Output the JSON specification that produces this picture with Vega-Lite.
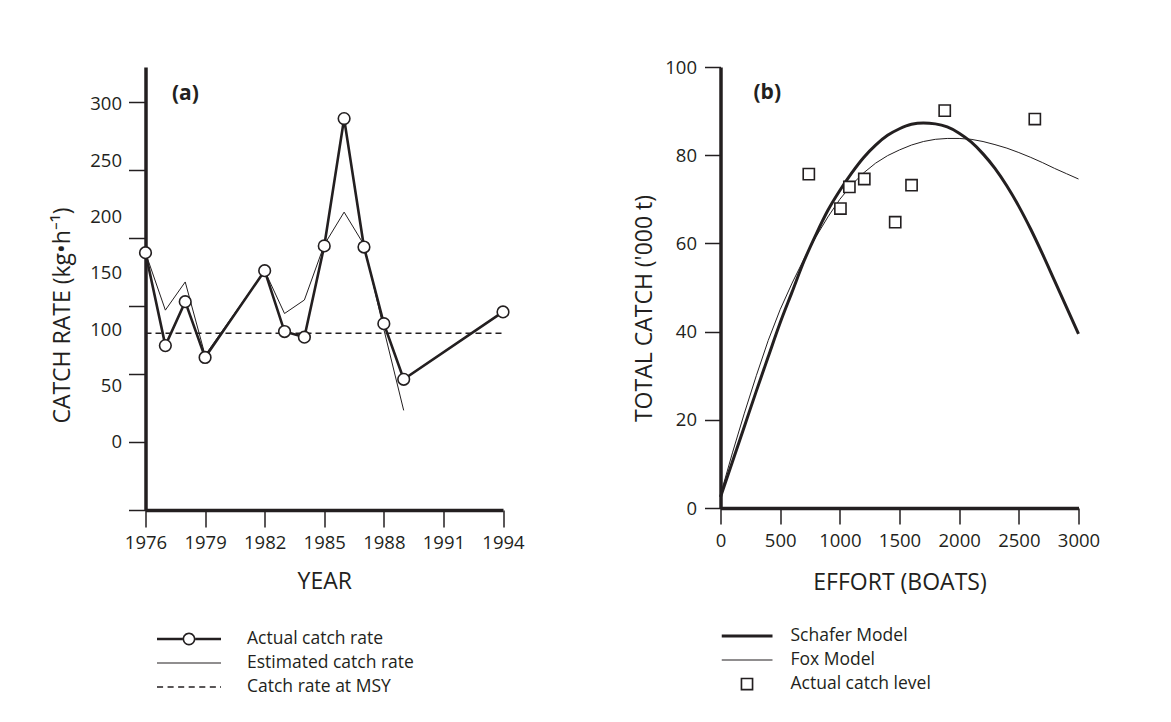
{
  "$schema": "https://vega.github.io/schema/vega-lite/v6.json",
  "background": "white",
  "padding": {"left": 50.5, "top": 58, "right": 0, "bottom": 0},
  "bounds": "flush",
  "spacing": 217,
  "resolve": {"scale": {"shape": "independent"}, "legend": {"shape": "independent"}},
  "config": {
    "font": "Open Sans",
    "view": {"stroke": null},
    "axis": {"grid": false, "labelOverlap": false, "labelFlush": false, "domainColor": "#231f20", "tickColor": "#231f20", "labelColor": "#231f20", "titleColor": "#231f20", "labelFontSize": 18.5, "titleFontSize": 23, "titleFontWeight": "normal", "labelFont": "Open Sans", "titleFont": "Open Sans"},
    "legend": {"labelFont": "Open Sans", "labelFontSize": 17.5, "labelColor": "#231f20", "labelLimit": 400, "padding": 0, "clipHeight": 18, "rowPadding": 6, "symbolFillColor": "#231f20", "symbolStrokeWidth": 0, "symbolOpacity": 1, "labelBaseline": "middle"}
  },
  "datasets": {
    "rates": [
      {"series": "Actual catch rate", "year": 1976, "rate": 168},
      {"series": "Actual catch rate", "year": 1977, "rate": 85.5},
      {"series": "Actual catch rate", "year": 1978, "rate": 124.5},
      {"series": "Actual catch rate", "year": 1979, "rate": 75},
      {"series": "Actual catch rate", "year": 1982, "rate": 152},
      {"series": "Actual catch rate", "year": 1983, "rate": 98},
      {"series": "Actual catch rate", "year": 1984, "rate": 93},
      {"series": "Actual catch rate", "year": 1985, "rate": 174},
      {"series": "Actual catch rate", "year": 1986, "rate": 287},
      {"series": "Actual catch rate", "year": 1987, "rate": 173},
      {"series": "Actual catch rate", "year": 1988, "rate": 105},
      {"series": "Actual catch rate", "year": 1989, "rate": 55.6},
      {"series": "Actual catch rate", "year": 1994, "rate": 115.4},
      {"series": "Estimated catch rate", "year": 1976, "rate": 168},
      {"series": "Estimated catch rate", "year": 1977, "rate": 117},
      {"series": "Estimated catch rate", "year": 1978, "rate": 142},
      {"series": "Estimated catch rate", "year": 1979, "rate": 77},
      {"series": "Estimated catch rate", "year": 1982, "rate": 152},
      {"series": "Estimated catch rate", "year": 1983, "rate": 114},
      {"series": "Estimated catch rate", "year": 1984, "rate": 126},
      {"series": "Estimated catch rate", "year": 1985, "rate": 175},
      {"series": "Estimated catch rate", "year": 1986, "rate": 204},
      {"series": "Estimated catch rate", "year": 1987, "rate": 175},
      {"series": "Estimated catch rate", "year": 1988, "rate": 100},
      {"series": "Estimated catch rate", "year": 1989, "rate": 28},
      {"series": "Catch rate at MSY", "year": 1976, "rate": 96.5},
      {"series": "Catch rate at MSY", "year": 1994, "rate": 96.5}
    ],
    "curves": [
      {"model": "Schafer Model", "effort": 0, "catch": 2.5},
      {"model": "Schafer Model", "effort": 100, "catch": 10.5},
      {"model": "Schafer Model", "effort": 200, "catch": 18.5},
      {"model": "Schafer Model", "effort": 300, "catch": 26.5},
      {"model": "Schafer Model", "effort": 400, "catch": 34.3},
      {"model": "Schafer Model", "effort": 500, "catch": 42},
      {"model": "Schafer Model", "effort": 600, "catch": 49},
      {"model": "Schafer Model", "effort": 700, "catch": 56},
      {"model": "Schafer Model", "effort": 800, "catch": 62},
      {"model": "Schafer Model", "effort": 900, "catch": 67.5},
      {"model": "Schafer Model", "effort": 1000, "catch": 72},
      {"model": "Schafer Model", "effort": 1100, "catch": 76},
      {"model": "Schafer Model", "effort": 1200, "catch": 79.5},
      {"model": "Schafer Model", "effort": 1300, "catch": 82.3},
      {"model": "Schafer Model", "effort": 1400, "catch": 84.5},
      {"model": "Schafer Model", "effort": 1500, "catch": 86},
      {"model": "Schafer Model", "effort": 1600, "catch": 87},
      {"model": "Schafer Model", "effort": 1700, "catch": 87.3},
      {"model": "Schafer Model", "effort": 1800, "catch": 87.1},
      {"model": "Schafer Model", "effort": 1900, "catch": 86.4},
      {"model": "Schafer Model", "effort": 2000, "catch": 85},
      {"model": "Schafer Model", "effort": 2100, "catch": 83},
      {"model": "Schafer Model", "effort": 2200, "catch": 80.3},
      {"model": "Schafer Model", "effort": 2300, "catch": 77},
      {"model": "Schafer Model", "effort": 2400, "catch": 73},
      {"model": "Schafer Model", "effort": 2500, "catch": 68.4},
      {"model": "Schafer Model", "effort": 2600, "catch": 63.2},
      {"model": "Schafer Model", "effort": 2700, "catch": 57.5},
      {"model": "Schafer Model", "effort": 2800, "catch": 51.5},
      {"model": "Schafer Model", "effort": 2900, "catch": 45.5},
      {"model": "Schafer Model", "effort": 3000, "catch": 39.5},
      {"model": "Fox Model", "effort": 0, "catch": 3},
      {"model": "Fox Model", "effort": 100, "catch": 12.5},
      {"model": "Fox Model", "effort": 200, "catch": 21.5},
      {"model": "Fox Model", "effort": 300, "catch": 30},
      {"model": "Fox Model", "effort": 400, "catch": 38},
      {"model": "Fox Model", "effort": 500, "catch": 45},
      {"model": "Fox Model", "effort": 600, "catch": 51},
      {"model": "Fox Model", "effort": 700, "catch": 56.5},
      {"model": "Fox Model", "effort": 800, "catch": 61.5},
      {"model": "Fox Model", "effort": 900, "catch": 66},
      {"model": "Fox Model", "effort": 1000, "catch": 70},
      {"model": "Fox Model", "effort": 1100, "catch": 73.3},
      {"model": "Fox Model", "effort": 1200, "catch": 76},
      {"model": "Fox Model", "effort": 1300, "catch": 78.2},
      {"model": "Fox Model", "effort": 1400, "catch": 79.9},
      {"model": "Fox Model", "effort": 1500, "catch": 81.2},
      {"model": "Fox Model", "effort": 1600, "catch": 82.3},
      {"model": "Fox Model", "effort": 1700, "catch": 83.1},
      {"model": "Fox Model", "effort": 1800, "catch": 83.6},
      {"model": "Fox Model", "effort": 1900, "catch": 83.8},
      {"model": "Fox Model", "effort": 2000, "catch": 83.8},
      {"model": "Fox Model", "effort": 2100, "catch": 83.6},
      {"model": "Fox Model", "effort": 2200, "catch": 83.1},
      {"model": "Fox Model", "effort": 2300, "catch": 82.4},
      {"model": "Fox Model", "effort": 2400, "catch": 81.6},
      {"model": "Fox Model", "effort": 2500, "catch": 80.6},
      {"model": "Fox Model", "effort": 2600, "catch": 79.5},
      {"model": "Fox Model", "effort": 2700, "catch": 78.3},
      {"model": "Fox Model", "effort": 2800, "catch": 77},
      {"model": "Fox Model", "effort": 2900, "catch": 75.8},
      {"model": "Fox Model", "effort": 3000, "catch": 74.6}
    ],
    "catches": [
      {"model": "Actual catch level", "effort": 740, "catch": 75.7},
      {"model": "Actual catch level", "effort": 1005, "catch": 67.9},
      {"model": "Actual catch level", "effort": 1080, "catch": 72.8},
      {"model": "Actual catch level", "effort": 1205, "catch": 74.6},
      {"model": "Actual catch level", "effort": 1464, "catch": 64.8},
      {"model": "Actual catch level", "effort": 1601, "catch": 73.2},
      {"model": "Actual catch level", "effort": 1879, "catch": 90.1},
      {"model": "Actual catch level", "effort": 2634, "catch": 88.2}
    ]
  },
  "hconcat": [
    {
      "width": 357.5,
      "height": 443,
      "title": {"text": "(a)", "anchor": "start", "frame": "group", "orient": "top", "offset": 0, "dx": 26.5, "dy": 58, "baseline": "bottom", "fontSize": 21, "fontWeight": "bold", "color": "#231f20", "font": "Open Sans"},
      "data": {"name": "rates"},
      "layer": [
        {
          "transform": [{"filter": "datum.series === 'Catch rate at MSY'"}],
          "mark": {"type": "line", "strokeDash": [6, 4], "strokeWidth": 1.3, "color": "#231f20"},
          "encoding": {
            "x": {"field": "year", "type": "quantitative", "scale": {"domain": [1976, 1994], "nice": false, "zero": false},
                  "axis": {"values": [1976, 1979, 1982, 1985, 1988, 1991, 1994], "format": "d", "tickSize": 17, "tickWidth": 1.5, "domainWidth": 3.5, "labelPadding": 6.6, "title": "YEAR", "titleY": 60.3, "titleBaseline": "top"}},
            "y": {"field": "rate", "type": "quantitative", "scale": {"domain": [-60.4, 332.8], "nice": false, "zero": false},
                  "axis": {"orient": "left", "values": [-60.4, 0, 60.4, 120.7, 181.1, 241.4, 301.8], "labels": false, "tickSize": 17, "tickWidth": 1.5, "domainWidth": 3.5, "title": "CATCH RATE (kg•h⁻¹)", "titleX": -83.5, "titleY": 248, "titleBaseline": "middle", "titleAngle": -90}}
          }
        },
        {
          "transform": [{"filter": "datum.series === 'Estimated catch rate'"}],
          "mark": {"type": "line", "strokeWidth": 1, "color": "#231f20"},
          "encoding": {
            "x": {"field": "year", "type": "quantitative"},
            "y": {"field": "rate", "type": "quantitative", "axis": null}
          }
        },
        {
          "transform": [{"filter": "datum.series === 'Actual catch rate'"}],
          "mark": {"type": "line", "strokeWidth": 2.6, "color": "#231f20"},
          "encoding": {
            "x": {"field": "year", "type": "quantitative"},
            "y": {"field": "rate", "type": "quantitative", "axis": null}
          }
        },
        {
          "transform": [{"filter": "datum.series === 'Actual catch rate'"}],
          "mark": {"type": "point", "shape": "circle", "filled": true, "fill": "white", "stroke": "#231f20", "strokeWidth": 1.6, "size": 135, "opacity": 1},
          "encoding": {
            "x": {"field": "year", "type": "quantitative"},
            "y": {"field": "rate", "type": "quantitative",
                  "axis": {"orient": "left", "values": [0, 50, 100, 150, 200, 250, 300], "ticks": false, "tickSize": 0, "domain": false, "labelPadding": 24, "title": null}}
          }
        },
        {
          "mark": {"type": "point", "filled": true, "color": "#231f20", "opacity": 0},
          "encoding": {
            "x": {"field": "year", "type": "quantitative"},
            "y": {"field": "rate", "type": "quantitative", "axis": null},
            "shape": {"field": "series", "type": "nominal",
              "scale": {"domain": ["Actual catch rate", "Estimated catch rate", "Catch rate at MSY"],
                        "range": [
                          "M-1,-0.04H-0.2V0.04H-1ZM0.2,-0.04H1V0.04H0.2ZM0.2,0A0.2,0.2,0,1,1,-0.2,0A0.2,0.2,0,1,1,0.2,0ZM0.15,0A0.15,0.15,0,1,0,-0.15,0A0.15,0.15,0,1,0,0.15,0Z",
                          "M-1,-0.018H1V0.018H-1Z",
                          "M-1,-0.02H-0.81V0.02H-1ZM-0.67,-0.02H-0.48V0.02H-0.67ZM-0.34,-0.02H-0.15V0.02H-0.34ZM-0.01,-0.02H0.18V0.02H-0.01ZM0.32,-0.02H0.51V0.02H0.32ZM0.65,-0.02H0.84V0.02H0.65ZM0.97,-0.02H1V0.02H0.97Z"
                        ]},
              "legend": {"orient": "none", "legendX": 11.5, "legendY": 563, "title": null, "symbolSize": 4096, "labelOffset": 26}}
          }
        }
      ],
      "resolve": {"axis": {"y": "independent"}}
    },
    {
      "width": 358,
      "height": 441,
      "title": {"text": "(b)", "anchor": "start", "frame": "group", "orient": "top", "offset": 0, "dx": 33, "dy": 66, "baseline": "bottom", "fontSize": 21, "fontWeight": "bold", "color": "#231f20", "font": "Open Sans"},
      "layer": [
        {
          "data": {"name": "curves"},
          "transform": [{"filter": "datum.model === 'Fox Model'"}],
          "mark": {"type": "line", "strokeWidth": 1, "color": "#231f20"},
          "encoding": {
            "x": {"field": "effort", "type": "quantitative", "scale": {"domain": [0, 3000], "nice": false},
                  "axis": {"values": [0, 500, 1000, 1500, 2000, 2500, 3000], "format": "d", "tickSize": 16, "tickWidth": 1.5, "domainWidth": 3.5, "labelPadding": 7.6, "title": "EFFORT (BOATS)", "titleY": 63, "titleBaseline": "top"}},
            "y": {"field": "catch", "type": "quantitative", "scale": {"domain": [0, 100], "nice": false},
                  "axis": {"values": [0, 20, 40, 60, 80, 100], "tickSize": 16, "tickWidth": 1.5, "domainWidth": 3.5, "labelPadding": 8, "title": "TOTAL CATCH ('000 t)", "titleX": -75.7, "titleY": 241, "titleBaseline": "middle", "titleAngle": -90}}
          }
        },
        {
          "data": {"name": "curves"},
          "transform": [{"filter": "datum.model === 'Schafer Model'"}],
          "mark": {"type": "line", "strokeWidth": 3, "color": "#231f20", "interpolate": "monotone"},
          "encoding": {
            "x": {"field": "effort", "type": "quantitative"},
            "y": {"field": "catch", "type": "quantitative"}
          }
        },
        {
          "data": {"name": "catches"},
          "mark": {"type": "point", "shape": "square", "filled": true, "fill": "white", "stroke": "#231f20", "strokeWidth": 1.6, "size": 125, "opacity": 1},
          "encoding": {
            "x": {"field": "effort", "type": "quantitative"},
            "y": {"field": "catch", "type": "quantitative"}
          }
        },
        {
          "data": {"name": "catches"},
          "mark": {"type": "point", "filled": true, "color": "#231f20", "opacity": 0},
          "encoding": {
            "x": {"field": "effort", "type": "quantitative"},
            "y": {"field": "catch", "type": "quantitative"},
            "shape": {"field": "model", "type": "nominal",
              "scale": {"domain": ["Schafer Model", "Fox Model", "Actual catch level"],
                        "range": [
                          "M-1,-0.06H1V0.06H-1Z",
                          "M-1,-0.022H1V0.022H-1Z",
                          "M-0.25,-0.25H0.25V0.25H-0.25ZM-0.185,-0.185V0.185H0.185V-0.185Z"
                        ]},
              "legend": {"orient": "none", "legendX": 1, "legendY": 560, "title": null, "symbolSize": 2601, "labelOffset": 18}}
          }
        }
      ]
    }
  ]
}
